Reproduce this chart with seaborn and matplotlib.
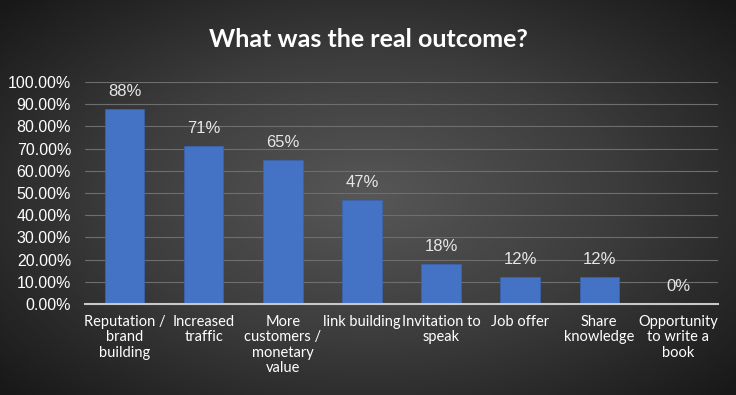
import numpy as np
import pandas as pd
import seaborn as sns
import matplotlib.pyplot as plt
from matplotlib.colors import LinearSegmentedColormap

# chart values
outcomes = ["Reputation /\nbrand\nbuilding", "Increased\ntraffic", "More\ncustomers /\nmonetary\nvalue",
            "link building", "Invitation to\nspeak", "Job offer", "Share\nknowledge",
            "Opportunity\nto write a\nbook"]
shares = [0.88, 0.71, 0.65, 0.47, 0.18, 0.12, 0.12, 0.0]
share_labels = ["88%", "71%", "65%", "47%", "18%", "12%", "12%", "0%"]
yticks = [i / 10 for i in range(11)]

df = pd.DataFrame({"outcome": outcomes, "share": shares})

sns.set_style("white")
plt.rcParams['font.family'] = ['Lato', 'DejaVu Sans']

fig = plt.figure(figsize=(7.36, 3.95), dpi=100)

# radial dark background
bg = fig.add_axes([0, 0, 1, 1], zorder=-1)
yy, xx = np.mgrid[-1:1:395j, -1:1:736j]
r = np.sqrt((xx * 0.95) ** 2 + (yy * 0.9) ** 2)
cmap = LinearSegmentedColormap.from_list("bg", ["#575757", "#3c3c3c", "#181818"])
bg.imshow(r, cmap=cmap, aspect="auto", vmin=0, vmax=1.3)
bg.axis("off")

ax = fig.add_axes([0.1155, 0.2304, 0.86, 0.562])
ax.set_facecolor("none")
sns.barplot(data=df, x="outcome", y="share", color="#4472C4", width=0.5,
            saturation=1, ax=ax, zorder=3)
for p in ax.patches:
    p.set_edgecolor("#3a64b4")
    p.set_linewidth(0.5)

for i, (v, lab) in enumerate(zip(shares, share_labels)):
    ax.text(i, v + 0.045, lab, ha="center", va="bottom", color="#e6e6e6",
            fontsize=12, family=["Liberation Sans"])

ax.set_ylim(0, 1.0)
ax.set_yticks(yticks)
ax.set_yticklabels([f"{t * 100:.2f}%" for t in yticks], color="white",
                   fontsize=11.5, family="Liberation Sans")
ax.set_xticks(range(len(outcomes)))
ax.set_xticklabels(outcomes, color="white", fontsize=10.5, va="top", linespacing=1.12)
ax.tick_params(axis="both", length=0)
ax.tick_params(axis="y", pad=10)
ax.tick_params(axis="x", pad=8)
ax.set_xlabel("")
ax.set_ylabel("")
ax.set_xlim(-0.5, len(outcomes) - 0.5)

ax.yaxis.grid(True, color="#6e6e6e", linewidth=0.8, zorder=0)
ax.set_axisbelow(True)
for s in ["top", "right", "left"]:
    ax.spines[s].set_visible(False)
ax.spines["bottom"].set_color("#c8c8c8")
ax.spines["bottom"].set_linewidth(1.5)
ax.spines["bottom"].set_zorder(4)

fig.text(0.5, 0.9, "What was the real outcome?", ha="center", va="center",
         color="white", fontsize=18, fontweight="bold")

fig.savefig("out.png", dpi=100)
